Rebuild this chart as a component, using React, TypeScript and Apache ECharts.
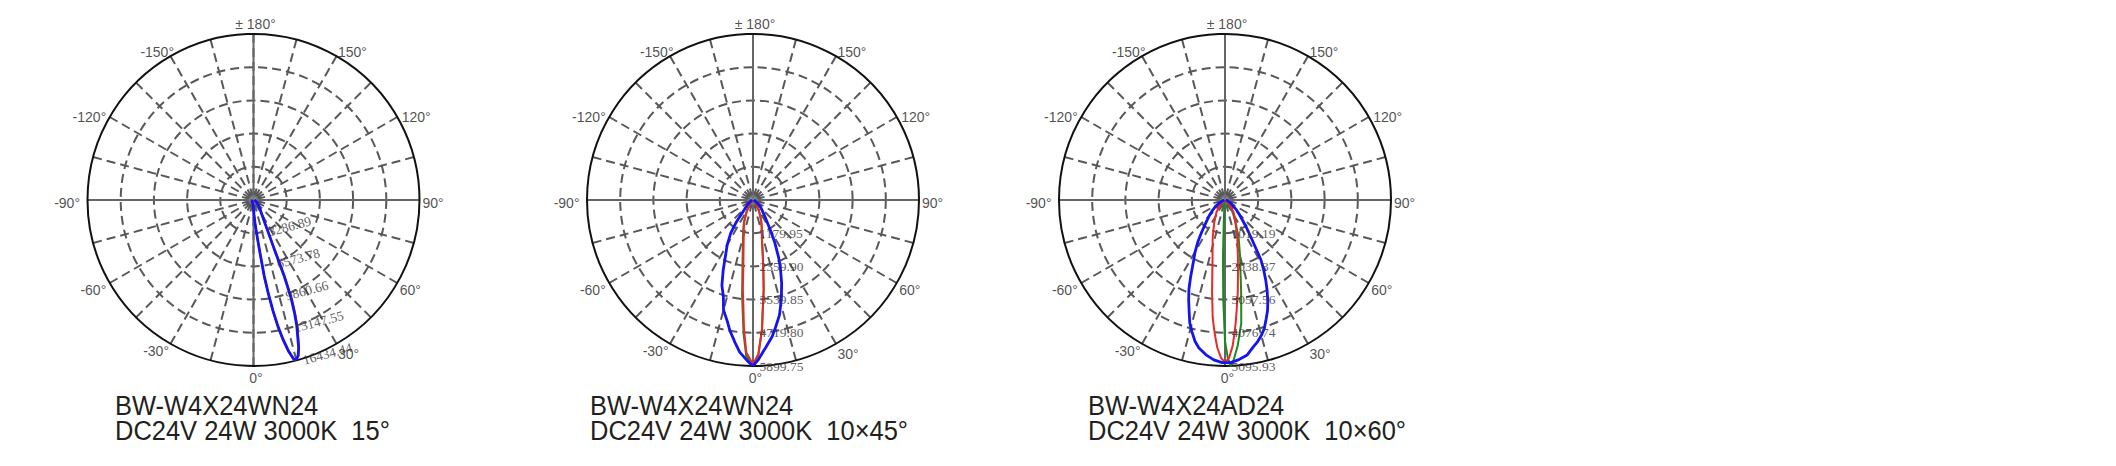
import React, { useEffect, useRef } from 'react';
import * as echarts from 'echarts';

// ---------- data (luminous intensity, cd; angle in degrees, 0 = down, + = right) ----------
const c1Angles = [-90, -60, -30, -10, -5, 0, 2, 4, 6, 7, 8, 9, 10, 11, 12, 13, 14, 14.5, 15, 16, 17, 18, 19, 20, 21, 22, 23, 24, 26, 30, 35, 44, 50, 60, 90];
const c1Blue = [82, 164, 247, 329, 493, 822, 1479, 2465, 3944, 5259, 7560, 9368, 11175, 12819, 14134, 15284, 16106, 16434, 16352, 16024, 15284, 14134, 13148, 11833, 10354, 8053, 5095, 3944, 2630, 1643, 1150, 690, 493, 329, 82];
const c1Red = [82, 164, 247, 329, 493, 822, 1500, 2500, 4000, 5400, 7700, 9500, 11300, 12950, 14300, 15450, 16200, 16434, 16380, 16100, 15400, 14350, 13400, 12150, 10800, 8550, 5500, 4100, 2700, 1700, 1180, 700, 500, 329, 82];

const c2BlueAngles = [-90, -70, -60, -50, -45, -40, -37, -34, -30, -26, -23, -20, -17, -15, -12, -10, -7, -5, -2, 0, 2, 5, 8, 10, 13, 16, 19, 22, 24, 27, 30, 35, 40, 48, 60, 70, 90];
const c2BlueValues = [30, 59, 118, 236, 354, 590, 1003, 1416, 1829, 2242, 2714, 3230, 3600, 4050, 4400, 4720, 5133, 5428, 5723, 5900, 5664, 5251, 4897, 4602, 4189, 3658, 3127, 2596, 2242, 1711, 1239, 767, 531, 354, 118, 59, 30];
const c2RedAngles = [-90, -45, -30, -22, -18, -13, -10, -8, -6.5, -5, -4, -2.5, 0, 2, 4, 5, 6.8, 8, 10, 12.7, 18, 22, 30, 45, 90];
const c2RedValues = [30, 118, 413, 826, 1062, 1475, 1947, 2478, 3186, 3894, 4602, 5428, 5841, 5487, 4602, 3953, 3209, 2655, 2006, 1451, 1003, 767, 413, 118, 30];
const c2GreenValues = [30, 130, 440, 870, 1120, 1593, 2124, 2714, 3422, 4130, 4779, 5546, 5900, 5487, 4602, 3953, 3209, 2655, 2006, 1451, 1003, 767, 413, 118, 30];

const c3BlueAngles = [-90, -70, -60, -55, -50, -45, -40, -36, -33, -30, -27, -24, -22, -20, -18, -16, -14, -12, -10, -7, -4, -1, 2, 5, 8, 11, 13, 15, 17, 19, 21, 23, 25, 27, 29, 31, 33, 35, 38, 41, 45, 50, 56, 65, 75, 90];
const c3BlueValues = [25, 102, 229, 357, 510, 688, 917, 1223, 1529, 1835, 2140, 2599, 2956, 3261, 3567, 3924, 4179, 4433, 4612, 4790, 4918, 4994, 4994, 4918, 4816, 4586, 4459, 4306, 4128, 3873, 3644, 3363, 3058, 2752, 2446, 2140, 1682, 1376, 1070, 815, 612, 433, 270, 153, 76, 25];
const c3RedAngles = [-90, -60, -45, -35, -25, -18, -14, -12, -10, -8, -6, -5, -4, -3, -1.5, 0, 1.5, 3, 4, 5, 6, 8, 10, 13, 18, 25, 35, 45, 60, 90];
const c3RedValues = [25, 51, 204, 459, 790, 1223, 1580, 1835, 2242, 2854, 3618, 3924, 4230, 4535, 4841, 4994, 4841, 4484, 4128, 3771, 3414, 2828, 2293, 1758, 1223, 764, 459, 204, 51, 25];
const c3GreenAngles = [-90, -30, -10, -5, -3, -2, -1, 0, 1, 2, 3, 5, 7.5, 10, 12, 15, 20, 25, 30, 40, 50, 90];
const c3GreenValues = [25, 51, 102, 255, 764, 1784, 3058, 4332, 4841, 5095, 4943, 4484, 3822, 2854, 2293, 1784, 1223, 764, 510, 255, 102, 25];

const c1Rings = [3286.89, 6573.78, 9860.66, 13147.55, 16434.44];
const c2Rings = [1179.95, 2359.9, 3539.85, 4719.8, 5899.75];
const c3Rings = [1019.19, 2038.37, 3057.56, 4076.74, 5095.93];
const ringLabelAngles = [15, 0, 0];

const angleTickLabels = [0, 30, 60, 90, 120, 150, 180, -150, -120, -90, -60, -30];

const titles1 = ['BW-W4X24WN24', 'BW-W4X24WN24', 'BW-W4X24AD24'];
const titles2 = ['DC24V 24W 3000K  15°', 'DC24V 24W 3000K  10×45°', 'DC24V 24W 3000K  10×60°'];

// ---------- layout ----------
const CENTERS = [253.5, 753, 1225];
const CY = 200;
const RADIUS = 166;
const TEXT_X = [115, 590, 1088];

const BLUE = '#1414f2';
const RED = '#ee2828';
const GREEN = '#1a8a1a';
const GRID = '#585858';
const LABEL_COLOR = '#1e1e1e';

// placement of the angle labels relative to their point on the outer circle
const LABEL_PLACE: Record<string, { align: string; va: string; dx: number; dy: number }> = {
  '0': { align: 'center', va: 'top', dx: 3, dy: 5 },
  '30': { align: 'left', va: 'middle', dx: 2, dy: 11 },
  '60': { align: 'left', va: 'middle', dx: 3, dy: 7 },
  '90': { align: 'left', va: 'middle', dx: 3.5, dy: 3 },
  '120': { align: 'left', va: 'middle', dx: 5, dy: 0 },
  '150': { align: 'left', va: 'middle', dx: 2, dy: -4 },
  '180': { align: 'center', va: 'bottom', dx: 2.5, dy: -3 },
  '-150': { align: 'right', va: 'middle', dx: 4, dy: -4 },
  '-120': { align: 'right', va: 'middle', dx: -3, dy: 0 },
  '-90': { align: 'right', va: 'middle', dx: -7, dy: 3 },
  '-60': { align: 'right', va: 'middle', dx: -3, dy: 7 },
  '-30': { align: 'right', va: 'middle', dx: -1, dy: 8 },
};

const toAxisAngle = (a: number) => (a < 0 ? a + 360 : a);
const pairs = (angles: number[], values: number[]) => values.map((v, i) => [v, toAxisAngle(angles[i])]);

export default function App() {
  const ref = useRef<HTMLDivElement>(null);
  useEffect(() => {
    if (!ref.current) return;
    const chart = echarts.init(ref.current, null, { renderer: 'svg' });

    const charts = [
      { rings: c1Rings, curves: [
        { color: RED, width: 2, data: pairs(c1Angles, c1Red) },
        { color: BLUE, width: 2.8, data: pairs(c1Angles, c1Blue) },
      ] },
      { rings: c2Rings, curves: [
        { color: GREEN, width: 2, data: pairs(c2RedAngles, c2GreenValues) },
        { color: RED, width: 2, data: pairs(c2RedAngles, c2RedValues) },
        { color: BLUE, width: 2.8, data: pairs(c2BlueAngles, c2BlueValues) },
      ] },
      { rings: c3Rings, curves: [
        { color: GREEN, width: 2, data: pairs(c3GreenAngles, c3GreenValues) },
        { color: RED, width: 2, data: pairs(c3RedAngles, c3RedValues) },
        { color: BLUE, width: 2.8, data: pairs(c3BlueAngles, c3BlueValues) },
      ] },
    ];

    const polar: any[] = [];
    const angleAxis: any[] = [];
    const radiusAxis: any[] = [];
    const series: any[] = [];
    const graphic: any[] = [];

    charts.forEach((c, i) => {
      const max = c.rings[c.rings.length - 1];
      const main = 2 * i;
      const cross = 2 * i + 1;
      polar.push({ center: [CENTERS[i], CY], radius: RADIUS });
      polar.push({ center: [CENTERS[i], CY], radius: RADIUS });

      angleAxis.push({
        polarIndex: main,
        type: 'value',
        min: 0,
        max: 360,
        interval: 15,
        startAngle: 270,
        clockwise: false,
        axisLine: { show: true, lineStyle: { color: '#111', width: 2 } },
        axisTick: { show: false },
        axisLabel: { show: false },
        splitLine: { show: true, lineStyle: { color: GRID, width: 2, type: [9, 5] } },
      });
      angleAxis.push({
        polarIndex: cross,
        type: 'value',
        min: 0,
        max: 360,
        interval: 90,
        startAngle: 270,
        clockwise: false,
        axisLine: { show: false },
        axisTick: { show: false },
        axisLabel: { show: false },
        splitLine: { show: true, lineStyle: { color: '#666', width: 2, type: 'solid' } },
      });

      radiusAxis.push({
        polarIndex: main,
        type: 'value',
        min: 0,
        max,
        interval: max / 5,
        axisLine: { show: false },
        axisTick: { show: false },
        axisLabel: { show: false },
        splitLine: {
          show: true,
          lineStyle: { color: [GRID, GRID, GRID, GRID, GRID, 'rgba(0,0,0,0)'], width: 2, type: [9, 5] },
        },
      });
      radiusAxis.push({
        polarIndex: cross,
        type: 'value',
        min: 0,
        max,
        axisLine: { show: false },
        axisTick: { show: false },
        axisLabel: { show: false },
        splitLine: { show: false },
      });

      c.curves.forEach((cv) => {
        series.push({
          type: 'line',
          coordinateSystem: 'polar',
          polarIndex: main,
          data: cv.data,
          showSymbol: false,
          symbol: 'none',
          smooth: false,
          lineStyle: { color: cv.color, width: cv.width },
          silent: true,
          z: 3,
        });
      });

      // center hub
      series.push({
        type: 'scatter',
        coordinateSystem: 'polar',
        polarIndex: main,
        data: [[0, 0]],
        symbolSize: 10,
        itemStyle: { color: '#7a7a7a' },
        silent: true,
        z: 2,
      });

      // angle labels on the outer circle
      series.push({
        type: 'scatter',
        coordinateSystem: 'polar',
        polarIndex: main,
        data: angleTickLabels.map((a) => {
          const p = LABEL_PLACE[String(a)];
          return {
            name: String(a),
            value: [max, toAxisAngle(a)],
            label: {
              position: [p.dx, p.dy],
              align: p.align,
              verticalAlign: p.va,
              color: LABEL_COLOR,
            },
          };
        }),
        symbolSize: 1,
        itemStyle: { color: 'rgba(0,0,0,0)' },
        label: {
          show: true,
          formatter: (p: any) => (p.name === '180' ? '± 180°' : `${p.name}°`),
          fontFamily: 'Liberation Sans, Arial, sans-serif',
          fontSize: 14,
          color: LABEL_COLOR,
        },
        silent: true,
        z: 4,
      });

      // ring value labels
      series.push({
        type: 'scatter',
        coordinateSystem: 'polar',
        polarIndex: main,
        data: c.rings.map((r) => [r, toAxisAngle(ringLabelAngles[i])]),
        symbolSize: 1,
        itemStyle: { color: 'rgba(0,0,0,0)' },
        label: {
          show: true,
          position: 'right',
          distance: 6,
          rotate: ringLabelAngles[i],
          formatter: (p: any) => Number(p.value[0]).toFixed(2),
          fontFamily: 'Liberation Serif, Times New Roman, serif',
          fontSize: 13.5,
          color: '#333333',
        },
        silent: true,
        z: 4,
      });

      graphic.push({
        type: 'text',
        x: TEXT_X[i],
        y: 406,
        scaleX: 0.91,
        style: {
          text: titles1[i],
          font: '28px "Liberation Sans", Arial, sans-serif',
          fill: '#231f20',
          verticalAlign: 'middle',
        },
      });
      graphic.push({
        type: 'text',
        x: TEXT_X[i],
        y: 431,
        scaleX: 0.91,
        style: {
          text: titles2[i],
          font: '28px "Liberation Sans", Arial, sans-serif',
          fill: '#231f20',
          verticalAlign: 'middle',
        },
      });
    });

    chart.setOption({
      animation: false,
      backgroundColor: '#ffffff',
      polar,
      angleAxis,
      radiusAxis,
      series,
      graphic,
    });
    return () => chart.dispose();
  }, []);

  return (
    <div
      ref={ref}
      style={{ position: 'absolute', left: 0, top: 0, width: 2116, height: 466, background: '#fff' }}
    />
  );
}
